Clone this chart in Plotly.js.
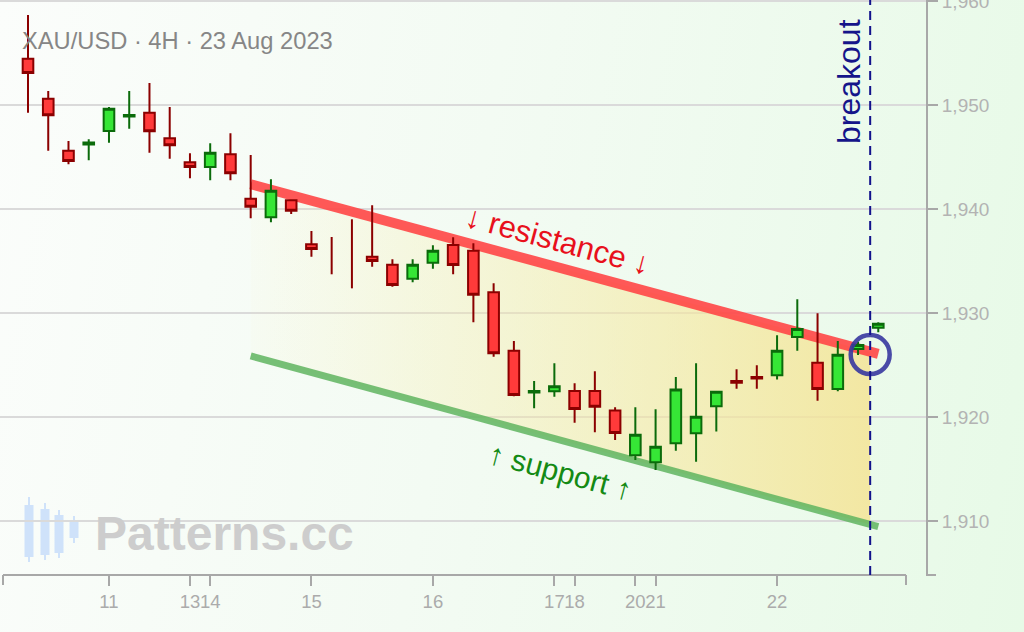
<!DOCTYPE html>
<html>
<head>
<meta charset="utf-8">
<script src="https://cdn.plot.ly/plotly-3.0.1.min.js"></script>
<style>
  html, body { margin: 0; padding: 0; }
  #chart {
    width: 1024px; height: 632px;
    background: linear-gradient(100deg, #fbfdfb 0%, #f3fbf3 45%, #e7fae7 100%);
  }
</style>
</head>
<body>
<div id="chart"></div>
<script>
// ---- Data (4H candles, XAU/USD) ----
const candleIndex = [0,1,2,3,4,5,6,7,8,9,10,11,12,13,14,15,16,17,18,19,20,21,22,23,24,25,26,27,28,29,30,31,32,33,34,35,36,37,38,39,40,41,42];
const openPrices  = [1954.45,1950.61,1945.61,1946.20,1947.50,1948.90,1949.26,1946.80,1944.49,1944.04,1945.26,1940.99,1939.20,1940.84,1936.61,null,null,1935.41,1934.64,1933.30,1934.84,1936.54,1935.99,1931.99,1926.37,1922.35,1922.47,1922.50,1922.50,1920.61,1916.32,1915.64,1917.47,1918.43,1921.04,1923.45,1923.85,1924.01,1927.69,1925.22,1922.69,1926.54,1928.59];
const highPrices  = [1958.65,1951.35,1946.54,1946.70,1949.81,1951.35,1952.12,1949.81,1945.36,1946.32,1947.28,1945.19,1942.86,1940.93,1937.88,1937.31,1939.01,1940.36,1935.16,1935.16,1936.51,1937.28,1936.70,1932.86,1927.31,1923.46,1925.16,1923.24,1924.39,1920.93,1920.93,1920.74,1923.85,1925.16,1922.53,1924.59,1924.97,1927.85,1931.32,1929.97,1927.31,1927.24,1929.10];
const lowPrices   = [1949.26,1945.61,1944.30,1944.68,1946.38,1947.72,1945.41,1944.84,1942.95,1942.76,1942.76,1939.11,1938.72,1939.52,1935.41,1933.72,1932.37,1934.45,1932.53,1932.95,1934.26,1933.72,1929.11,1925.80,1921.99,1920.84,1921.95,1919.45,1918.53,1917.79,1915.87,1914.90,1916.76,1915.70,1918.59,1922.72,1922.72,1923.59,1926.37,1921.57,1922.47,1925.96,1928.14];
const closePrices = [1953.08,1949.01,1944.62,1946.40,1949.64,1949.05,1947.47,1946.12,1944.04,1945.41,1943.43,1940.22,1941.76,1939.84,1936.15,null,null,1935.00,1932.69,1934.64,1935.99,1934.62,1931.76,1926.12,1922.12,1922.50,1922.95,1920.77,1920.99,1918.46,1918.30,1917.14,1922.63,1920.03,1922.43,1923.30,1923.70,1926.37,1928.46,1922.69,1925.99,1926.92,1928.97];

// x-axis date ticks (candle index -> day of month)
const tickIndex  = [4, 8, 9, 14, 20, 26, 27, 30, 31, 37];
const tickLabels = ['11','13','14','15','16','17','18','20','21','22'];
const priceTicks = [1910, 1920, 1930, 1940, 1950, 1960];

// channel lines
const channelX     = [11, 42];
const resistanceY  = [1942.38, 1926.06];
const supportY     = [1925.87, 1909.45];
// channel fill (ends at breakout)
const fillX        = [11, 41.6];
const fillTopY     = [1942.38, 1926.27];
const fillBottomY  = [1925.87, 1909.66];

// breakout
const breakoutX = [41.6];
const breakoutY = [1926.0];

const titleText = 'XAU/USD · 4H · 23 Aug 2023';

// ---- Build traces ----
const cIdx = candleIndex.filter(i => openPrices[i] !== null);
const wIdx = candleIndex.filter(i => openPrices[i] === null);
const wickX = [], wickY = [];
wIdx.forEach(i => { wickX.push(i, i, null); wickY.push(highPrices[i], lowPrices[i], null); });

const W = 926, H = 575;              // plot area in px
const px = x => x / W;
const py = y => (H - y) / H;
const xRange = [-1.383, 44.357];
const yRange = [1904.8, 1960.1];

const traces = [
  { type: 'scatter', mode: 'lines', x: fillX, y: fillBottomY, line: {width: 0}, hoverinfo: 'skip', showlegend: false },
  { type: 'scatter', mode: 'lines', x: fillX, y: fillTopY, line: {width: 0}, fill: 'tonexty',
    fillgradient: { type: 'horizontal', colorscale: [[0, 'rgba(250,238,170,0.05)'], [1, 'rgba(244,228,150,0.85)']] },
    hoverinfo: 'skip', showlegend: false },
  { type: 'scatter', mode: 'lines', x: channelX, y: resistanceY,
    line: {color: 'rgba(255,70,70,0.9)', width: 10}, showlegend: false, hoverinfo: 'skip' },
  { type: 'scatter', mode: 'lines', x: channelX, y: supportY,
    line: {color: 'rgba(95,180,95,0.85)', width: 7}, showlegend: false, hoverinfo: 'skip' },
  // candles on an overlay subplot so they sit above the channel
  { type: 'candlestick', xaxis: 'x2', yaxis: 'y2',
    x: cIdx, open: cIdx.map(i => openPrices[i]), high: cIdx.map(i => highPrices[i]),
    low: cIdx.map(i => lowPrices[i]), close: cIdx.map(i => closePrices[i]),
    increasing: { line: {color: '#0b6b0b', width: 2}, fillcolor: '#36e636' },
    decreasing: { line: {color: '#8b0000', width: 2}, fillcolor: '#ff3a3a' },
    whiskerwidth: 0, showlegend: false },
  { type: 'scatter', mode: 'lines', xaxis: 'x2', yaxis: 'y2', x: wickX, y: wickY, line: {color: '#8b0000', width: 2},
    showlegend: false, hoverinfo: 'skip' },
  { type: 'scatter', mode: 'markers', xaxis: 'x2', yaxis: 'y2', x: breakoutX, y: breakoutY,
    marker: { symbol: 'circle-open', size: 39, color: 'rgba(55,55,160,0.9)', line: {width: 4.5} },
    showlegend: false, hoverinfo: 'skip' }
];

// watermark icon candles (pixel positions)
const icon = [
  {cx: 29, b0: 505, b1: 557, w0: 497, w1: 562},
  {cx: 45, b0: 509, b1: 555, w0: 503, w1: 560},
  {cx: 59, b0: 515, b1: 553, w0: 510, w1: 558},
  {cx: 74, b0: 522, b1: 538, w0: 516, w1: 543}
];
const shapes = [];
icon.forEach(c => {
  shapes.push({type: 'line', xref: 'paper', yref: 'paper', x0: px(c.cx), x1: px(c.cx), y0: py(c.w0), y1: py(c.w1),
    line: {color: '#cfe2fa', width: 2}, layer: 'below'});
  shapes.push({type: 'rect', xref: 'paper', yref: 'paper', x0: px(c.cx - 4.5), x1: px(c.cx + 4.5), y0: py(c.b0), y1: py(c.b1),
    line: {width: 0}, fillcolor: '#cfe2fa', layer: 'below'});
});
// x-axis line with end ticks
shapes.push({type: 'line', xref: 'paper', yref: 'paper', x0: px(3), x1: px(906), y0: 0, y1: 0, line: {color: '#a8a8a8', width: 2}});
shapes.push({type: 'line', xref: 'paper', yref: 'paper', x0: px(3), x1: px(3), y0: 0, y1: py(585), line: {color: '#a8a8a8', width: 2}});
shapes.push({type: 'line', xref: 'paper', yref: 'paper', x0: px(906), x1: px(906), y0: 0, y1: py(585), line: {color: '#a8a8a8', width: 2}});
// y-axis bottom end tick
shapes.push({type: 'line', xref: 'paper', yref: 'paper', x0: 1, x1: px(936), y0: 0, y1: 0, line: {color: '#a8a8a8', width: 2}});
// breakout dashed line
shapes.push({type: 'line', xref: 'x', yref: 'paper', x0: breakoutX[0], x1: breakoutX[0], y0: 0, y1: 1,
  line: {color: '#12128c', width: 2, dash: '9px,6px'}, layer: 'above'});

const font = 'Liberation Sans, Arial, sans-serif';
const layout = {
  width: 1024, height: 632,
  margin: {l: 0, r: 98, t: 0, b: 57, pad: 0},
  paper_bgcolor: 'rgba(0,0,0,0)', plot_bgcolor: 'rgba(0,0,0,0)',
  showlegend: false, boxgap: 0.25,
  font: {family: font},
  title: { text: titleText, x: 22 / 1024, xanchor: 'left', xref: 'container', y: 1 - 41 / 632, yanchor: 'middle',
    font: {family: font, size: 23.7, color: '#868686'} },
  xaxis: {
    range: xRange, rangeslider: {visible: false},
    showgrid: false, zeroline: false, showline: false,
    tickmode: 'array', tickvals: tickIndex, ticktext: tickLabels, tickangle: 0,
    ticks: 'outside', ticklen: 10, tickwidth: 2, tickcolor: '#a8a8a8',
    tickfont: {family: font, size: 18.5, color: '#ababab'}, fixedrange: true
  },
  yaxis: {
    side: 'right', range: yRange,
    tickmode: 'array', tickvals: priceTicks, tickformat: ',.0f', ticklabeloverflow: 'allow',
    showline: true, linecolor: '#a8a8a8', linewidth: 2,
    ticks: 'outside', ticklen: 10, tickwidth: 2, tickcolor: '#a8a8a8',
    showgrid: true, gridcolor: '#dadada', gridwidth: 1.5, zeroline: false,
    tickfont: {family: font, size: 19, color: '#b3b3b3'}, fixedrange: true
  },
  xaxis2: { overlaying: 'x', anchor: 'y2', range: xRange, visible: false, rangeslider: {visible: false}, fixedrange: true },
  yaxis2: { overlaying: 'y', anchor: 'x2', side: 'right', range: yRange, visible: false, fixedrange: true },
  shapes: shapes,
  annotations: [
    { text: 'breakout', xref: 'paper', yref: 'paper', x: px(849), y: py(82), xanchor: 'center', yanchor: 'middle',
      textangle: -90, showarrow: false, font: {family: font, size: 32, color: '#15158a'} },
    { text: '↓ resistance ↓', xref: 'paper', yref: 'paper', x: px(558), y: py(240), xanchor: 'center', yanchor: 'middle',
      textangle: 15, showarrow: false, font: {family: font, size: 31, color: '#e8101c'} },
    { text: '↑ support ↑', xref: 'paper', yref: 'paper', x: px(560), y: py(471), xanchor: 'center', yanchor: 'middle',
      textangle: 15, showarrow: false, font: {family: font, size: 30, color: '#148a14'} },
    { text: '<b>Patterns.cc</b>', xref: 'paper', yref: 'paper', x: px(93), y: py(533), xanchor: 'left', yanchor: 'middle',
      showarrow: false, font: {family: font, size: 48, color: '#cdcdcd'} }
  ]
};

Plotly.newPlot('chart', traces, layout, {displayModeBar: false, staticPlot: true});
</script>
</body>
</html>
